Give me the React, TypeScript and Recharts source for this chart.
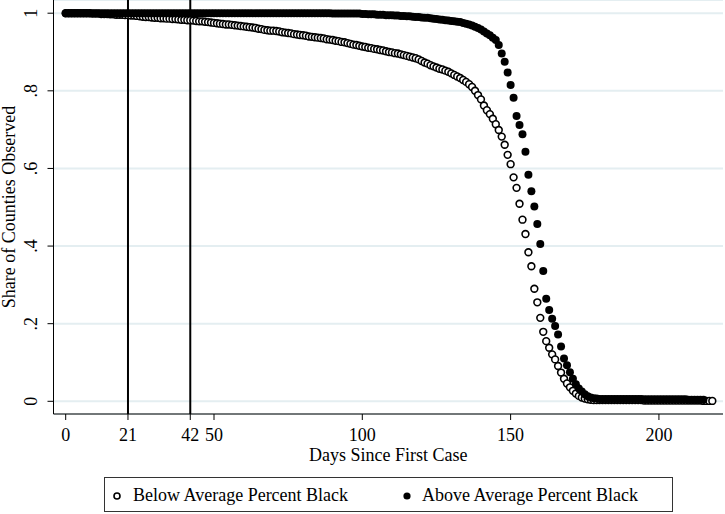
import React from "react";
import {
  ScatterChart,
  Scatter,
  XAxis,
  YAxis,
  CartesianGrid,
  ReferenceLine,
  Legend,
} from "recharts";

// ---------- data ----------
const seriesNames = ["Below Average Percent Black", "Above Average Percent Black"];
const xTicks = [0, 21, 42, 50, 100, 150, 200];
const yTicks = [0, 0.2, 0.4, 0.6, 0.8, 1];
const yTickLabels = ["0", ".2", ".4", ".6", ".8", "1"];
const markerDays = [21, 42];

// share observed, day 0 .. 218 (below average percent black)
const belowShare = [
  1, 1, 1, 1, 1, 1, 1, 1, 1, 0.999,
  0.999, 0.999, 0.998, 0.998, 0.998, 0.997, 0.997, 0.996, 0.996, 0.996,
  0.995, 0.995, 0.994, 0.994, 0.993, 0.992, 0.991, 0.99, 0.99, 0.989,
  0.988, 0.988, 0.987, 0.987, 0.986, 0.986, 0.985, 0.985, 0.984, 0.983,
  0.983, 0.982, 0.982, 0.981, 0.98, 0.979, 0.979, 0.978, 0.977, 0.976,
  0.975, 0.974, 0.973, 0.972, 0.971, 0.971, 0.97, 0.969, 0.968, 0.967,
  0.966, 0.965, 0.964, 0.963, 0.962, 0.96, 0.959, 0.957, 0.956, 0.955,
  0.955, 0.954, 0.953, 0.951, 0.95, 0.949, 0.948, 0.946, 0.945, 0.944,
  0.943, 0.942, 0.94, 0.939, 0.938, 0.937, 0.936, 0.935, 0.933, 0.932,
  0.931, 0.929, 0.928, 0.926, 0.925, 0.923, 0.921, 0.919, 0.918, 0.916,
  0.914, 0.913, 0.911, 0.91, 0.908, 0.907, 0.905, 0.904, 0.902, 0.9,
  0.899, 0.897, 0.896, 0.894, 0.892, 0.89, 0.888, 0.886, 0.884, 0.881,
  0.877, 0.873, 0.87, 0.866, 0.863, 0.86, 0.857, 0.855, 0.852, 0.849,
  0.845, 0.841, 0.837, 0.833, 0.828, 0.823, 0.817, 0.81, 0.8, 0.789,
  0.778, 0.762, 0.75, 0.74, 0.728, 0.714, 0.699, 0.682, 0.661, 0.635,
  0.611, 0.577, 0.55, 0.509, 0.468, 0.431, 0.384, 0.348, 0.29, 0.255,
  0.215, 0.179, 0.155, 0.138, 0.121, 0.108, 0.091, 0.074, 0.058, 0.046,
  0.036, 0.027, 0.02, 0.014, 0.01, 0.007, 0.005, 0.004, 0.003, 0.003,
  0.003, 0.003, 0.003, 0.003, 0.003, 0.003, 0.003, 0.003, 0.003, 0.003,
  0.003, 0.003, 0.003, 0.003, 0.003, 0.002, 0.002, 0.002, 0.002, 0.002,
  0.002, 0.002, 0.002, 0.002, 0.002, 0.002, 0.002, 0.002, 0.002, 0.002,
  0.002, 0.002, 0.002, 0.002, 0.002, 0.001, 0.001, 0.001, 0.001,
];

// share observed, day 0 .. 215 (above average percent black)
const aboveShare = [
  1, 1, 1, 1, 1, 1, 1, 1, 1, 1,
  1, 1, 1, 1, 1, 1, 1, 1, 1, 1,
  1, 1, 1, 1, 1, 1, 1, 1, 1, 1,
  1, 1, 1, 1, 1, 1, 1, 1, 1, 1,
  1, 1, 1, 1, 1, 1, 1, 1, 1, 1,
  1, 1, 1, 1, 1, 1, 1, 1, 1, 1,
  1, 1, 1, 1, 1, 1, 1, 1, 1, 1,
  1, 1, 1, 1, 1, 1, 1, 1, 1, 1,
  1, 1, 1, 1, 1, 1, 1, 1, 1, 1,
  0.999, 0.999, 0.999, 0.999, 0.999, 0.999, 0.999, 0.999, 0.999, 0.999,
  0.998, 0.998, 0.997, 0.997, 0.997, 0.996, 0.996, 0.996, 0.995, 0.995,
  0.995, 0.994, 0.994, 0.993, 0.993, 0.992, 0.992, 0.991, 0.99, 0.99,
  0.989, 0.988, 0.988, 0.987, 0.986, 0.985, 0.984, 0.983, 0.982, 0.981,
  0.98, 0.979, 0.978, 0.977, 0.975, 0.973, 0.971, 0.968, 0.965, 0.962,
  0.958, 0.953, 0.948, 0.943, 0.937, 0.931, 0.918, 0.896, 0.875, 0.847,
  0.815, 0.782, 0.735, 0.712, 0.688, 0.643, 0.584, 0.541, 0.502, 0.457,
  0.405, 0.336, 0.264, 0.235, 0.213, 0.194, 0.172, 0.141, 0.11, 0.093,
  0.075, 0.058, 0.044, 0.033, 0.025, 0.018, 0.013, 0.01, 0.008, 0.007,
  0.006, 0.006, 0.006, 0.006, 0.006, 0.006, 0.006, 0.006, 0.006, 0.006,
  0.006, 0.006, 0.006, 0.006, 0.006, 0.005, 0.005, 0.005, 0.005, 0.005,
  0.005, 0.005, 0.005, 0.005, 0.005, 0.005, 0.005, 0.005, 0.005, 0.005,
  0.004, 0.004, 0.004, 0.004, 0.004, 0.004,
];

const belowData = belowShare.map((v, i) => ({ day: i, share: v }));
const aboveData = aboveShare.map((v, i) => ({ day: i, share: v }));

const FONT = '"Liberation Serif", "Times New Roman", serif';

const HollowDot = (p: any) => (
  <circle cx={p.cx} cy={p.cy} r={3.4} fill="#fff" stroke="#000" strokeWidth={1.6} />
);
const FilledDot = (p: any) => <circle cx={p.cx} cy={p.cy} r={4} fill="#000" />;

const XTick = (p: any) => (
  <text x={p.x} y={p.y + 19} textAnchor="middle" fontFamily={FONT} fontSize={18} fill="#000">
    {p.payload.value}
  </text>
);

const YTick = (p: any) => {
  const idx = yTicks.indexOf(p.payload.value);
  const bx = 37;
  return (
    <text
      x={bx}
      y={p.y}
      transform={`rotate(-90, ${bx}, ${p.y})`}
      textAnchor="middle"
      fontFamily={FONT}
      fontSize={18}
      fill="#000"
    >
      {idx >= 0 ? yTickLabels[idx] : p.payload.value}
    </text>
  );
};

const LegendBox = () => (
  <div
    style={{
      position: "relative",
      width: 569,
      height: 35,
      boxSizing: "border-box",
      border: "1px solid #333",
      background: "#fff",
      fontFamily: FONT,
      fontSize: 18,
      color: "#000",
    }}
  >
    <svg width={569} height={35} style={{ position: "absolute", left: -1, top: -1 }}>
      <circle cx={13} cy={19} r={3} fill="#fff" stroke="#000" strokeWidth={1.6} />
      <circle cx={303} cy={19} r={3.6} fill="#000" />
    </svg>
    <span style={{ position: "absolute", left: 28, top: 7, lineHeight: "20px", whiteSpace: "nowrap" }}>
      {seriesNames[0]}
    </span>
    <span style={{ position: "absolute", left: 317, top: 7, lineHeight: "20px", whiteSpace: "nowrap" }}>
      {seriesNames[1]}
    </span>
  </div>
);

export default function App() {
  return (
    <div style={{ position: "absolute", left: 0, top: 0, width: 725, height: 514, background: "#fff" }}>
      <ScatterChart
        width={725}
        height={514}
        margin={{ top: 0, right: 2, bottom: 0, left: 0 }}
        style={{ fontFamily: FONT }}
      >
        <CartesianGrid horizontal vertical={false} stroke="#e4eef1" strokeWidth={2} />
        <XAxis
          type="number"
          dataKey="day"
          domain={[-4.11, 221.6]}
          ticks={xTicks}
          interval={0}
          allowDataOverflow
          height={100}
          tickSize={6}
          tickMargin={2}
          axisLine={{ stroke: "#000", strokeWidth: 1 }}
          tickLine={{ stroke: "#000", strokeWidth: 1 }}
          tick={<XTick />}
          label={{
            content: (props: any) => {
              const vb = props.viewBox || {};
              return (
                <text
                  x={vb.x + vb.width / 2}
                  y={vb.y + 47}
                  textAnchor="middle"
                  fontFamily={FONT}
                  fontSize={18}
                  fill="#000"
                >
                  Days Since First Case
                </text>
              );
            },
          }}
        />
        <YAxis
          type="number"
          dataKey="share"
          domain={[-0.0327, 1.034]}
          ticks={yTicks}
          interval={0}
          allowDataOverflow
          width={53.5}
          tickSize={6}
          axisLine={{ stroke: "#000", strokeWidth: 1 }}
          tickLine={{ stroke: "#000", strokeWidth: 1 }}
          tick={<YTick />}
          label={{
            content: (props: any) => {
              const vb = props.viewBox || {};
              const cy = vb.y + vb.height / 2;
              return (
                <text
                  x={14.5}
                  y={cy}
                  transform={`rotate(-90, 14.5, ${cy})`}
                  textAnchor="middle"
                  fontFamily={FONT}
                  fontSize={18}
                  fill="#000"
                >
                  Share of Counties Observed
                </text>
              );
            },
          }}
        />
        {markerDays.map((d) => (
          <ReferenceLine key={d} x={d} stroke="#000" strokeWidth={2} />
        ))}
        <Scatter
          name={seriesNames[0]}
          data={belowData}
          shape={HollowDot}
          isAnimationActive={false}
        />
        <Scatter
          name={seriesNames[1]}
          data={aboveData}
          shape={FilledDot}
          isAnimationActive={false}
        />
        <Legend
          layout="horizontal"
          verticalAlign="middle"
          align="center"
          wrapperStyle={{ position: "absolute", left: 104, top: 477, width: 569, height: 35, margin: 0, padding: 0 }}
          content={() => <LegendBox />}
        />
      </ScatterChart>
    </div>
  );
}
